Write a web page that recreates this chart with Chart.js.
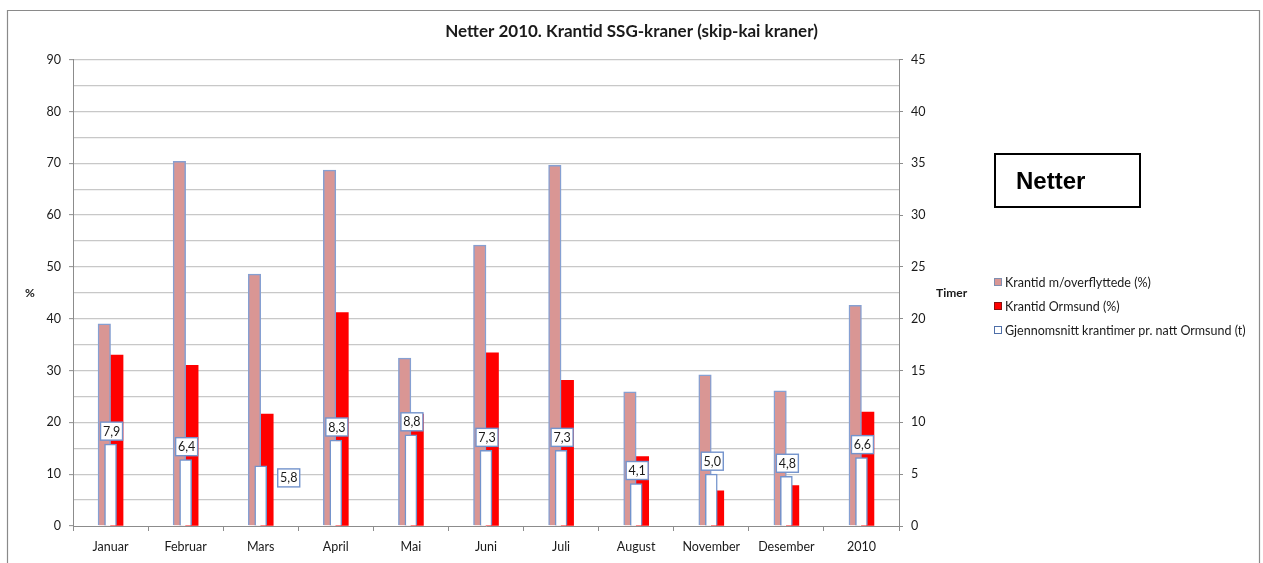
<!DOCTYPE html>
<html>
<head>
<meta charset="utf-8">
<script src="https://cdn.jsdelivr.net/npm/chart.js@4"></script>
<style>
  html, body { margin: 0; padding: 0; background: #ffffff; }
  #wrap { width: 1263px; height: 563px; position: relative; }
</style>
</head>
<body>
<div id="wrap"><canvas id="c" width="1263" height="563"></canvas></div>
<script>
// ---- data ----
const categories = ['Januar', 'Februar', 'Mars', 'April', 'Mai', 'Juni', 'Juli', 'August', 'November', 'Desember', '2010'];
const krantidOverflyttede = [39.0, 70.4, 48.6, 68.7, 32.4, 54.2, 69.6, 25.9, 29.2, 26.1, 42.6];
const krantidOrmsund = [33.0, 31.0, 21.6, 41.2, 21.6, 33.4, 28.1, 13.4, 6.8, 7.8, 22.0];
const krantimerPrNatt = [7.9, 6.4, 5.8, 8.3, 8.8, 7.3, 7.3, 4.1, 5.0, 4.8, 6.6];
const labelPlacement = ['above', 'above', 'right', 'above', 'above', 'above', 'above', 'above', 'above', 'above', 'above'];
const seriesNames = ['Krantid m/overflyttede (%)', 'Krantid Ormsund (%)', 'Gjennomsnitt krantimer pr. natt Ormsund (t)'];
const titleText = 'Netter 2010. Krantid SSG-kraner (skip-kai kraner)';
const leftAxisTitle = '%';
const rightAxisTitle = 'Timer';
const boxText = 'Netter';

const FONT = 'Lato, "Open Sans", sans-serif';
const AXIS_COLOR = '#8c8c8c';
const GRID_COLOR = '#c8c8c8';
const TEXT_COLOR = '#1a1a1a';
const BLUE_EDGE = '#7393cc';
const SMALL = 12.5;

const extrasPlugin = {
  id: 'extras',
  beforeDraw(chart) {
    const ctx = chart.ctx;
    ctx.save();
    ctx.fillStyle = '#ffffff';
    ctx.fillRect(0, 0, chart.width, chart.height);
    ctx.strokeStyle = '#8a8a8a';
    ctx.lineWidth = 1.2;
    ctx.beginPath();
    ctx.moveTo(7.5, chart.height + 2);
    ctx.lineTo(7.5, 10.5);
    ctx.lineTo(1259.5, 10.5);
    ctx.lineTo(1259.5, chart.height + 2);
    ctx.stroke();
    ctx.restore();
  },
  afterDatasetsDraw(chart) {
    const ctx = chart.ctx;
    const meta = chart.getDatasetMeta(2);
    ctx.save();
    ctx.font = SMALL + 'px ' + FONT;
    ctx.textAlign = 'center';
    ctx.textBaseline = 'middle';
    meta.data.forEach((el, i) => {
      const txt = krantimerPrNatt[i].toFixed(1).replace('.', ',');
      const w = 22, h = 18;
      let cx, cy;
      if (labelPlacement[i] === 'right') {
        cx = el.x + 28; cy = el.y + 12;
      } else {
        cx = el.x + 1; cy = el.y - 4 - h / 2;
      }
      ctx.fillStyle = '#ffffff';
      ctx.fillRect(cx - w / 2, cy - h / 2, w, h);
      ctx.strokeStyle = BLUE_EDGE;
      ctx.lineWidth = 1.4;
      ctx.strokeRect(cx - w / 2, cy - h / 2, w, h);
      ctx.fillStyle = TEXT_COLOR;
      ctx.fillText(txt, cx, cy + 0.5);
    });
    ctx.restore();
  },
  afterDraw(chart) {
    const ctx = chart.ctx;
    ctx.save();
    // axis titles
    ctx.fillStyle = TEXT_COLOR;
    ctx.font = 'bold 12px ' + FONT;
    ctx.textBaseline = 'middle';
    ctx.textAlign = 'left';
    ctx.fillText(leftAxisTitle, 25, 293);
    ctx.fillText(rightAxisTitle, 936, 293);
    // legend
    ctx.font = SMALL + 'px ' + FONT;
    const ys = [282, 306, 330];
    chart.data.datasets.forEach((ds, i) => {
      const y = ys[i];
      ctx.fillStyle = ds.backgroundColor;
      ctx.fillRect(994.5, y - 3.5, 7, 7);
      ctx.strokeStyle = ds.legendEdge;
      ctx.lineWidth = 1;
      ctx.strokeRect(994.5, y - 3.5, 7, 7);
      ctx.fillStyle = TEXT_COLOR;
      ctx.fillText(ds.label, 1005, y + 0.5);
    });
    // "Netter" box
    ctx.strokeStyle = '#000000';
    ctx.lineWidth = 2;
    ctx.strokeRect(995, 154, 145, 53);
    ctx.fillStyle = '#000000';
    ctx.font = 'bold 24px "Liberation Sans", Arial, sans-serif';
    ctx.fillText(boxText, 1016, 182);
    ctx.restore();
  }
};

new Chart(document.getElementById('c'), {
  type: 'bar',
  data: {
    labels: categories,
    datasets: [
      {
        label: seriesNames[0],
        data: krantidOverflyttede,
        yAxisID: 'y',
        backgroundColor: '#d99694',
        borderColor: '#86a0d2',
        legendEdge: '#7f8fb0',
        borderWidth: 1.5,
        barThickness: 12.5,
        order: 1
      },
      {
        label: seriesNames[1],
        data: krantidOrmsund,
        yAxisID: 'y',
        backgroundColor: '#ff0000',
        borderColor: '#e00000',
        legendEdge: '#8a1010',
        borderWidth: 0,
        barThickness: 12.5,
        order: 1
      },
      {
        label: seriesNames[2],
        data: krantimerPrNatt,
        yAxisID: 'y1',
        backgroundColor: '#ffffff',
        borderColor: BLUE_EDGE,
        legendEdge: '#4f6fa8',
        borderWidth: 1.5,
        barThickness: 12,
        grouped: false,
        order: 0
      }
    ]
  },
  options: {
    responsive: false,
    animation: false,
    devicePixelRatio: 1,
    layout: { padding: 0 },
    plugins: {
      legend: { display: false },
      tooltip: { enabled: false },
      title: {
        display: true,
        text: titleText,
        color: TEXT_COLOR,
        font: { family: FONT, size: 17, weight: 'bold', lineHeight: 1.2 },
        padding: { top: 21.5, bottom: 17.8 }
      }
    },
    scales: {
      x: {
        offset: true,
        afterFit(scale) { scale.height = 37; },
        grid: {
          display: true,
          drawOnChartArea: false,
          drawTicks: true,
          tickLength: 5,
          color: AXIS_COLOR,
          offset: true
        },
        border: { display: true, color: AXIS_COLOR, width: 1 },
        ticks: {
          color: TEXT_COLOR,
          font: { family: FONT, size: SMALL },
          padding: 8,
          maxRotation: 0,
          autoSkip: false
        }
      },
      y: {
        position: 'left',
        min: 0,
        max: 90,
        afterFit(scale) { scale.width = 73; },
        ticks: {
          stepSize: 5,
          color: TEXT_COLOR,
          font: { family: FONT, size: SMALL },
          padding: 8,
          callback: (v) => (v % 10 === 0 ? String(v) : '')
        },
        grid: {
          color: (c) => (c.tick && c.tick.value === 0 ? 'rgba(0,0,0,0)' : GRID_COLOR),
          lineWidth: 1.3,
          tickLength: 4,
          tickColor: (c) => (c.tick && c.tick.value % 10 === 0 ? AXIS_COLOR : 'rgba(0,0,0,0)'),
          tickWidth: 1
        },
        border: { display: true, color: AXIS_COLOR, width: 1 }
      },
      y1: {
        position: 'right',
        min: 0,
        max: 45,
        afterFit(scale) { scale.width = 364; },
        ticks: {
          stepSize: 5,
          color: TEXT_COLOR,
          font: { family: FONT, size: SMALL },
          padding: 8
        },
        grid: {
          drawOnChartArea: false,
          tickLength: 4,
          tickColor: AXIS_COLOR
        },
        border: { display: true, color: AXIS_COLOR, width: 1 }
      }
    }
  },
  plugins: [extrasPlugin]
});
</script>
</body>
</html>
